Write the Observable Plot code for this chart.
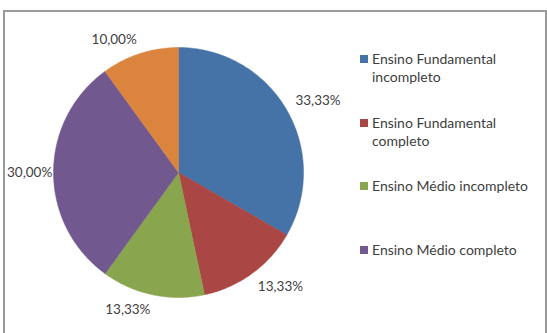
<!DOCTYPE html>
<html>
<head>
<meta charset="utf-8">
<script src="https://cdn.jsdelivr.net/npm/d3@7"></script>
<script src="https://cdn.jsdelivr.net/npm/@observablehq/plot@0.6"></script>
<style>
  html, body { margin: 0; padding: 0; background: #fff; overflow: hidden; }
  #page { position: relative; width: 547px; height: 333px; overflow: hidden; }
  #box { position: absolute; left: 3px; top: 10px; width: 540px; height: 340px; border: 2px solid #9a9a9a; }
  #chart { position: absolute; left: 0; top: 0; }
  #legend { position: absolute; left: 360px; top: 50px; font-family: Lato, sans-serif; font-size: 14px; line-height: 18px; color: #404040; }
  .item { display: flex; height: 63.5px; }
  .sw { width: 8px; height: 8px; margin-top: 5px; margin-right: 4px; flex: none; }
  .lbl { width: 165px; }
</style>
</head>
<body>
<div id="page">
  <div id="box"></div>
  <div id="chart"></div>
  <div id="legend"></div>
</div>
<script>
// Schooling level shares (%), in slice order clockwise from 12 o'clock
const categories = [
  "Ensino Fundamental incompleto",
  "Ensino Fundamental completo",
  "Ensino Médio incompleto",
  "Ensino Médio completo",
  "Ensino Superior"
];
const shares = [33.33, 13.33, 13.33, 30.00, 10.00];
const colors = ["#4572A7", "#AA4643", "#89A54E", "#71588F", "#DB843D"];
const legendItems = categories.slice(0, 4);

// Slice outlines in unit-circle coordinates (y grows downward)
const arcs = d3.pie().sort(null).value(d => d)(shares);
const outline = [];
arcs.forEach((a, i) => {
  const k = categories[i];
  const n = Math.max(2, Math.ceil((a.endAngle - a.startAngle) / (Math.PI / 180)));
  outline.push({k, x: 0, y: 0});
  for (let t = 0; t <= n; t++) {
    const ang = a.startAngle + (a.endAngle - a.startAngle) * t / n;
    outline.push({k, x: Math.sin(ang), y: -Math.cos(ang)});
  }
  outline.push({k, x: 0, y: 0});
});

const fmt = v => v.toFixed(2).replace(".", ",") + "%";

// One value label per slice, just outside the rim at the slice's mid-angle;
// labels beside the pie are centred vertically, the others anchor by their
// corner nearest the pie
const labelMarks = arcs.map((a, i) => {
  const mid = (a.startAngle + a.endAngle) / 2;
  const sx = Math.sin(mid), sy = -Math.cos(mid);
  const side = Math.abs(sy) < 0.3;
  const r = side ? 1.01 : 1.08;
  return Plot.text([shares[i]], {
    x: () => r * sx,
    y: () => r * sy,
    text: d => fmt(d),
    textAnchor: sx >= 0 ? "start" : "end",
    lineAnchor: side ? "middle" : sy < 0 ? "bottom" : "top",
    fontSize: 13.5,
    fill: "#404040"
  });
});

const chart = Plot.plot({
  width: 547,
  height: 333,
  margin: 0,
  style: {fontFamily: "Lato, sans-serif", background: "transparent", overflow: "visible"},
  x: {domain: [-1, 1], range: [53, 303], axis: null},
  y: {domain: [-1, 1], range: [47, 297], axis: null},
  color: {domain: categories, range: colors},
  marks: [
    Plot.line(outline, {x: "x", y: "y", z: "k", fill: "k", stroke: "k", strokeWidth: 0.5, curve: "linear"}),
    ...labelMarks
  ]
});
document.getElementById("chart").append(chart);

// Legend listing the first four levels
const legend = document.getElementById("legend");
legendItems.forEach(name => {
  const item = document.createElement("div");
  item.className = "item";
  const sw = document.createElement("div");
  sw.className = "sw";
  sw.style.background = colors[categories.indexOf(name)];
  const lbl = document.createElement("div");
  lbl.className = "lbl";
  lbl.textContent = name;
  item.append(sw, lbl);
  legend.append(item);
});
</script>
</body>
</html>
